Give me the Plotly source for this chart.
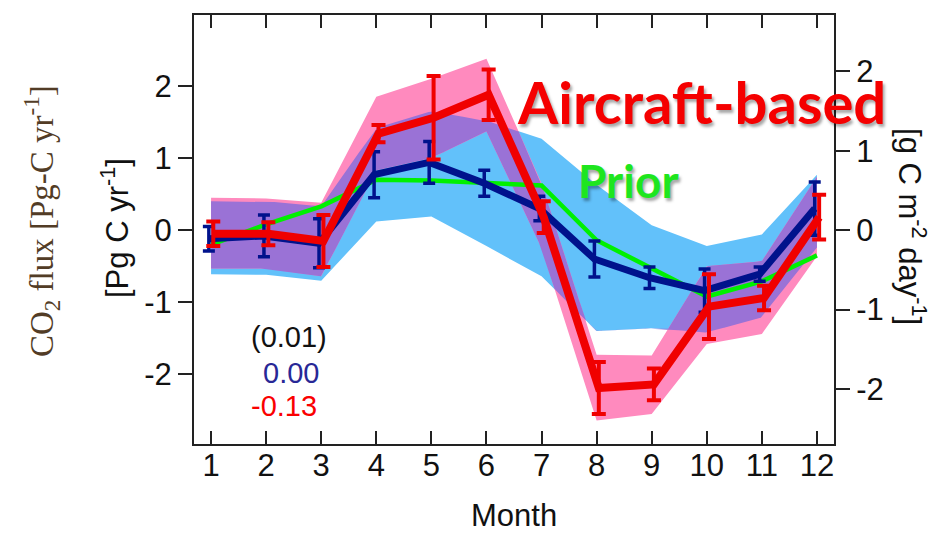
import numpy as np
import plotly.graph_objects as go

# ---------------- data ----------------
MONTHS = [1, 2, 3, 4, 5, 6, 7, 8, 9, 10, 11, 12]
MONTH_LABELS = ["1", "2", "3", "4", "5", "6", "7", "8", "9", "10", "11", "12"]

PRIOR = [-0.20, 0.08, 0.33, 0.70, 0.69, 0.66, 0.62, -0.14, -0.53, -0.92, -0.71, -0.35]

SURFACE = [-0.12, -0.08, -0.18, 0.77, 0.94, 0.65, 0.30, -0.40, -0.66, -0.84, -0.61, 0.30]
SURFACE_ERR = [0.17, 0.29, 0.34, 0.32, 0.29, 0.18, 0.17, 0.25, 0.15, 0.30, 0.10, 0.37]
SURFACE_LO = [-0.61, -0.62, -0.70, 0.12, 0.19, -0.22, -0.64, -1.40, -1.36, -1.42, -1.21, -0.24]
SURFACE_HI = [0.40, 0.40, 0.33, 1.42, 1.65, 1.52, 1.27, 0.63, 0.07, -0.22, -0.06, 0.77]

AIRCRAFT = [-0.05, -0.05, -0.15, 1.34, 1.56, 1.88, 0.18, -2.19, -2.14, -1.06, -0.94, 0.18]
AIRCRAFT_ERR = [0.17, 0.16, 0.36, 0.12, 0.58, 0.35, 0.22, 0.36, 0.22, 0.45, 0.17, 0.31]
AIRCRAFT_LO = [-0.53, -0.53, -0.64, 0.83, 1.00, 1.37, -0.25, -2.64, -2.55, -1.58, -1.44, -0.36]
AIRCRAFT_HI = [0.45, 0.44, 0.38, 1.85, 2.10, 2.38, 0.65, -1.73, -1.74, -0.50, -0.43, 0.74]

Y_TICKS = [-2, -1, 0, 1, 2]
Y_TICK_LABELS = ["-2", "-1", "0", "1", "2"]

ANNUAL_PRIOR = "(0.01)"
ANNUAL_SURFACE = "0.00"
ANNUAL_AIRCRAFT = "-0.13"

# ---------------- styles ----------------
LIGHT_BLUE = "rgb(98,193,250)"
PINK = "rgb(255,138,190)"
PURPLE = "rgb(154,114,214)"
NAVY = "rgb(0,18,140)"
RED = "rgb(240,0,0)"
GREEN = "rgb(0,240,0)"
AX = "#222222"
SANS = "Liberation Sans, Arial, Helvetica, sans-serif"
OFFSET = 0.04

PAGE = 8                      # default body margin of the html page
W, H = 938 - PAGE, 533 - PAGE
L, T = 194 - PAGE, 13 - PAGE
R, B = W - (834 - PAGE), H - (444 - PAGE)
PW, PH = W - L - R, H - T - B


def px(x):
    """reference-screen x (px) -> paper coordinate"""
    return (x - PAGE - L) / PW


def py(y):
    """reference-screen y (px) -> paper coordinate"""
    return (H - B - (y - PAGE)) / PH


m = np.array(MONTHS, dtype=float)


def band(lo, hi):
    return list(m) + list(m[::-1]), list(hi) + list(lo[::-1])


fig = go.Figure()

bx, by = band(SURFACE_LO, SURFACE_HI)
fig.add_trace(go.Scatter(x=bx, y=by, fill="toself", fillcolor=LIGHT_BLUE,
                         line=dict(width=0), mode="lines", hoverinfo="skip"))
ax_, ay_ = band(AIRCRAFT_LO, AIRCRAFT_HI)
fig.add_trace(go.Scatter(x=ax_, y=ay_, fill="toself", fillcolor=PINK,
                         line=dict(width=0), mode="lines", hoverinfo="skip"))

# overlap of the two uncertainty bands (purple)
xs = np.linspace(m[0], m[-1], 2201)
ov_hi = np.minimum(np.interp(xs, m, SURFACE_HI), np.interp(xs, m, AIRCRAFT_HI))
ov_lo = np.maximum(np.interp(xs, m, SURFACE_LO), np.interp(xs, m, AIRCRAFT_LO))
ov_hi = np.maximum(ov_hi, ov_lo)
fig.add_trace(go.Scatter(x=list(xs) + list(xs[::-1]), y=list(ov_hi) + list(ov_lo[::-1]),
                         fill="toself", fillcolor=PURPLE, line=dict(width=0),
                         mode="lines", hoverinfo="skip"))

fig.add_trace(go.Scatter(x=MONTHS, y=PRIOR, mode="lines",
                         line=dict(color=GREEN, width=4.5)))

fig.add_trace(go.Scatter(x=m - OFFSET, y=SURFACE, mode="lines",
                         line=dict(color=NAVY, width=7),
                         error_y=dict(type="data", array=SURFACE_ERR, visible=True,
                                      color=NAVY, thickness=3.5, width=6)))

fig.add_trace(go.Scatter(x=m + OFFSET, y=AIRCRAFT, mode="lines",
                         line=dict(color=RED, width=8),
                         error_y=dict(type="data", array=AIRCRAFT_ERR, visible=True,
                                      color=RED, thickness=4, width=7)))

# carrier for the right-hand axis
fig.add_trace(go.Scatter(x=MONTHS, y=[None] * len(MONTHS), yaxis="y2",
                         mode="lines", hoverinfo="skip"))

tickfont = dict(family=SANS, size=31, color="#111111")

fig.update_layout(
    width=W, height=H,
    margin=dict(l=L, r=R, t=T, b=B, pad=0),
    paper_bgcolor="white", plot_bgcolor="white",
    showlegend=False,
    xaxis=dict(range=[0.69, 12.31], tickvals=MONTHS, ticktext=MONTH_LABELS,
               ticks="inside", ticklen=13, tickwidth=2, tickcolor=AX,
               showline=True, linewidth=2, linecolor=AX, mirror="ticks",
               showgrid=False, zeroline=False, tickfont=tickfont,
               ticklabelstandoff=-7),
    yaxis=dict(range=[-2.967, 2.986], tickvals=Y_TICKS, ticktext=Y_TICK_LABELS,
               ticks="outside", ticklen=14, tickwidth=2, tickcolor=AX,
               showline=True, linewidth=2, linecolor=AX,
               showgrid=False, zeroline=False, tickfont=tickfont),
    yaxis2=dict(range=[-2.694, 2.709], tickvals=Y_TICKS, ticktext=Y_TICK_LABELS,
                overlaying="y", side="right",
                ticks="outside", ticklen=14, tickwidth=2, tickcolor=AX,
                showline=True, linewidth=2, linecolor=AX,
                showgrid=False, zeroline=False, tickfont=tickfont),
)

ann = []
ann.append(dict(text="Aircraft-based", x=px(701), y=py(100),
                font=dict(family="Lato, Open Sans, sans-serif", size=58, color="rgb(245,0,0)",
                          weight="bold", shadow="2px 3px 3px rgba(0,0,0,0.35)")))
ann.append(dict(text="Prior", x=px(628), y=py(179),
                font=dict(family="Lato, Open Sans, sans-serif", size=46, color="rgb(30,230,30)",
                          weight="bold", shadow="2px 3px 3px rgba(0,0,0,0.35)")))
ann.append(dict(text=ANNUAL_PRIOR, x=px(289), y=py(336),
                font=dict(family=SANS, size=29, color="#111111")))
ann.append(dict(text=ANNUAL_SURFACE, x=px(291), y=py(373),
                font=dict(family=SANS, size=29, color="rgb(40,40,150)")))
ann.append(dict(text=ANNUAL_AIRCRAFT, x=px(284), y=py(406),
                font=dict(family=SANS, size=29, color="rgb(250,0,0)")))
ann.append(dict(text="CO<sub>2</sub> flux [Pg-C yr<sup>-1</sup>]", x=px(41), y=py(220),
                textangle=-90,
                font=dict(family="Liberation Serif, Times New Roman, serif", size=33,
                          color="rgb(82,60,38)")))
ann.append(dict(text="[Pg C yr<sup>-1</sup>]", x=px(115), y=py(227), textangle=-90,
                font=dict(family=SANS, size=31, color="#111111")))
ann.append(dict(text="[g C m<sup>-2</sup> day<sup>-1</sup>]", x=px(912), y=py(225), textangle=90,
                font=dict(family=SANS, size=31, color="#111111")))
ann.append(dict(text="Month", x=px(514), y=py(516),
                font=dict(family=SANS, size=31, color="#111111")))

for a in ann:
    a.update(xref="paper", yref="paper", showarrow=False,
             xanchor="center", yanchor="middle")
fig.update_layout(annotations=ann)

fig.write_html("out.html")
